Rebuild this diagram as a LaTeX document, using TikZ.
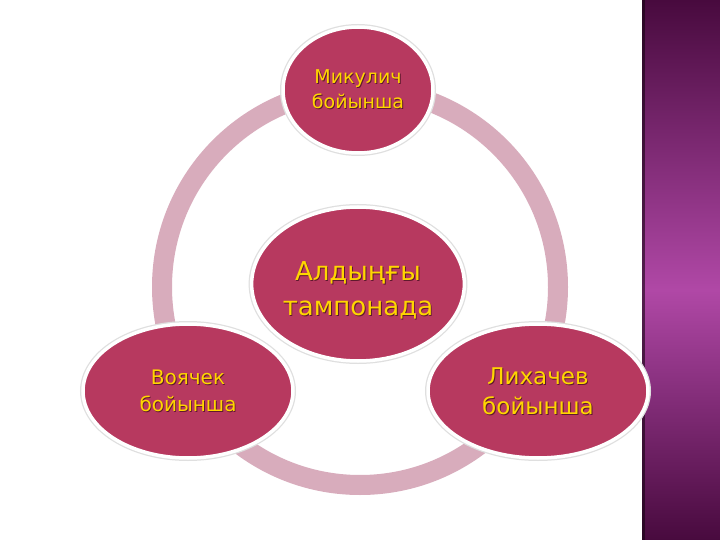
\documentclass[tikz,border=0pt]{standalone}
\usepackage{fontspec}
\setmainfont{DejaVu Sans}
\usetikzlibrary{shapes.geometric}
\definecolor{bubfill}{RGB}{183,57,95}
\definecolor{ringc}{RGB}{216,172,188}
\definecolor{txty}{RGB}{255,214,0}
\definecolor{txtsh}{RGB}{95,25,45}
\definecolor{stripdark}{RGB}{72,10,62}
\definecolor{stripmid}{RGB}{176,72,166}
\newcommand\shd[1]{\rlap{\raisebox{-0.9pt}{\kern0.9pt\textcolor{txtsh}{#1}}}#1}
\newcommand\lowered[2]{\raisebox{-#1}[0pt][0pt]{\begin{tabular}{@{}c@{}}#2\end{tabular}}}
\tikzset{
  bub/.style={ellipse, fill=bubfill, draw=white, line width=3.5pt, inner sep=0pt,
    text=txty, align=center, preaction={draw=gray!25, line width=6pt}},
}
\begin{document}
\begin{tikzpicture}[x=1pt,y=-1pt]
\useasboundingbox (0,0) rectangle (720,540);
\fill[white] (0,0) rectangle (720,540);
% right strip
\fill[top color=stripdark, bottom color=stripmid] (642,0) rectangle (720,290);
\fill[top color=stripmid, bottom color=stripdark] (642,290) rectangle (720,540);
\fill[black!70!stripdark, opacity=0.6] (642,0) rectangle (645,540);
% ring
\draw[ringc, line width=20pt] (360,287) circle[radius=198pt];
% bubbles
\node[bub, minimum width=150pt, minimum height=126pt, font=\fontsize{19}{25}\selectfont]
  (top) at (358,90) {\shd{Микулич}\\\shd{бойынша}};
\node[bub, minimum width=204pt, minimum height=154pt, font=\fontsize{26}{35}\selectfont]
  (mid) at (358,284) {\lowered{13.5pt}{\shd{Алдыңғы}\\\shd{тампонада}}};
\node[bub, minimum width=210pt, minimum height=134pt, font=\fontsize{20}{27}\selectfont]
  (left) at (188,391) {\shd{Воячек}\\\shd{бойынша}};
\node[bub, minimum width=220pt, minimum height=134pt, font=\fontsize{23}{30}\selectfont]
  (right) at (538,391) {\lowered{8.5pt}{\shd{Лихачев}\\\shd{бойынша}}};
\end{tikzpicture}
\end{document}
